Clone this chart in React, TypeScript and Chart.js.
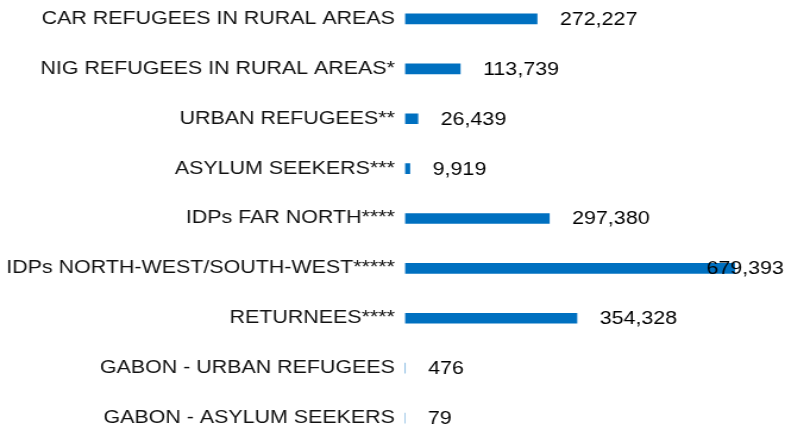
import React, { useEffect, useRef } from "react";
import { Chart, registerables } from "chart.js";

Chart.register(...registerables);

const categories = [
  "CAR REFUGEES IN RURAL AREAS",
  "NIG REFUGEES IN RURAL AREAS*",
  "URBAN REFUGEES**",
  "ASYLUM SEEKERS***",
  "IDPs FAR NORTH****",
  "IDPs NORTH-WEST/SOUTH-WEST*****",
  "RETURNEES****",
  "GABON - URBAN REFUGEES",
  "GABON - ASYLUM SEEKERS",
];
const values = [272227, 113739, 26439, 9919, 297380, 679393, 354328, 476, 79];
const axisMax = 700000;

const CW = 660;
const CH = 449;
const SX = 785 / CW;
const FONT = '"Liberation Sans", Arial, sans-serif';

const valueLabels = {
  id: "valueLabels",
  afterDatasetsDraw(chart: any) {
    const ctx = chart.ctx;
    const meta = chart.getDatasetMeta(0);
    ctx.save();
    ctx.font = `18px ${FONT}`;
    ctx.fillStyle = "#000";
    ctx.textBaseline = "middle";
    ctx.textAlign = "left";
    meta.data.forEach((bar: any, i: number) => {
      const txt = values[i].toLocaleString("en-US");
      const w = ctx.measureText(txt).width;
      let x = bar.x + 19.3;
      if (x + w > chart.width - 1) x = chart.width - 1 - w;
      ctx.fillText(txt, x, bar.y + 1);
    });
    ctx.restore();
  },
};

export default function App() {
  const ref = useRef<HTMLCanvasElement>(null);
  useEffect(() => {
    if (!ref.current) return;
    const chart = new Chart(ref.current, {
      type: "bar",
      data: {
        labels: categories,
        datasets: [
          {
            data: values,
            backgroundColor: "#0070C0",
            borderWidth: 0,
            barThickness: 10,
          },
        ],
      },
      options: {
        indexAxis: "y",
        animation: false,
        responsive: false,
        devicePixelRatio: 1,
        layout: { padding: { left: 0, right: 34, top: 0, bottom: 0 } },
        plugins: { legend: { display: false }, tooltip: { enabled: false } },
        scales: {
          x: { display: false, min: 0, max: axisMax },
          y: {
            grid: { display: false, drawTicks: false },
            border: { display: false },
            ticks: {
              padding: 8.5,
              color: "#111",
              font: { family: FONT, size: 18 },
              autoSkip: false,
            },
            afterFit: (scale: any) => {
              scale.width = 340.5;
              scale.paddingTop = 0;
              scale.paddingBottom = 0;
            },
          },
        },
      },
      plugins: [valueLabels],
    });
    return () => chart.destroy();
  }, []);
  return (
    <div style={{ position: "fixed", inset: 0, overflow: "hidden", background: "#fff" }}>
      <div
        style={{
          position: "absolute",
          left: 0,
          top: -6,
          width: CW,
          height: CH,
          transform: `scaleX(${SX})`,
          transformOrigin: "0 0",
        }}
      >
        <canvas ref={ref} width={CW} height={CH} style={{ display: "block" }} />
      </div>
    </div>
  );
}
